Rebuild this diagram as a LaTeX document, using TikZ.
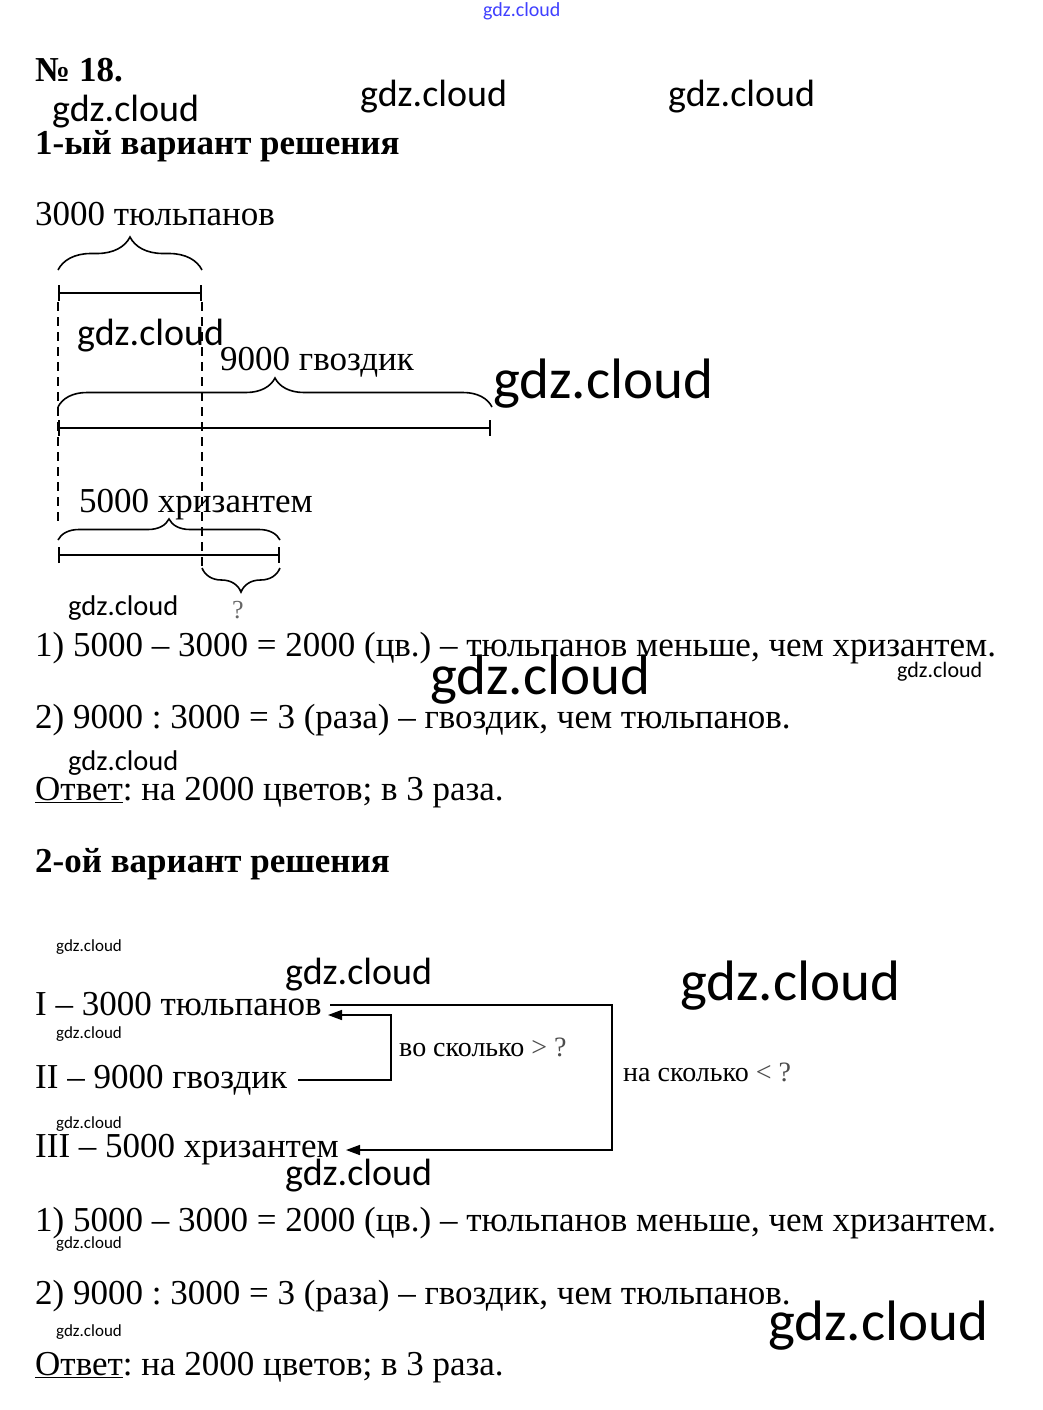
\documentclass[tikz,border=0pt]{standalone}
\usepackage{fontspec}
\setmainfont{Liberation Serif}
\newfontfamily\wmfont{Carlito}
\usetikzlibrary{decorations.pathreplacing,arrows.meta,calc}
\frenchspacing
\begin{document}
\begin{tikzpicture}[x=1pt,y=-1pt]
\tikzset{
 txt/.style={anchor=base west, inner sep=0pt, font=\fontsize{35}{40}\selectfont},
 hd/.style={anchor=base west, inner sep=0pt, font=\fontsize{35}{40}\selectfont\bfseries},
 small/.style={anchor=base west, inner sep=0pt, font=\fontsize{28}{32}\selectfont},
 wmL/.style={anchor=base west, inner sep=0pt, font=\wmfont\fontsize{57}{60}\selectfont},
 wmM/.style={anchor=base west, inner sep=0pt, font=\wmfont\fontsize{38}{40}\selectfont},
 wmS/.style={anchor=base west, inner sep=0pt, font=\wmfont\fontsize{28.5}{30}\selectfont},
 wmX/.style={anchor=base west, inner sep=0pt, font=\wmfont\fontsize{22}{24}\selectfont},
 wmT/.style={anchor=base west, inner sep=0pt, font=\wmfont\fontsize{17}{18}\selectfont},
 seg/.style={line width=1.6pt, {Bar[width=16pt]}-{Bar[width=16pt]}},
 dsh/.style={line width=1.4pt, dash pattern=on 9pt off 6pt},
 br/.style={line width=1.6pt, decorate, decoration={brace, amplitude=#1}},
 brm/.style={line width=1.6pt, decorate, decoration={brace, mirror, amplitude=#1}},
 arr/.style={line width=1.6pt, -{Triangle[length=14pt,width=10pt]}},
}
\useasboundingbox (0,0) rectangle (1043,1410);
\fill[white] (0,0) rectangle (1043,1410);

% watermarks
\node[anchor=base west, inner sep=0pt, font=\wmfont\fontsize{20}{22}\selectfont, text=blue!75!white] (w0) at (483,17) {gdz.cloud};
\node[wmM] (w1) at (52,122) {gdz.cloud};
\node[wmM] (w2) at (360,107) {gdz.cloud};
\node[wmM] (w3) at (668,107) {gdz.cloud};
\node[wmM] (w4) at (77,345) {gdz.cloud};
\node[wmL] (w5) at (493,398) {gdz.cloud};
\node[wmS] (w6) at (68,615) {gdz.cloud};
\node[wmX] (w7) at (897,677) {gdz.cloud};
\node[wmL] (w8) at (430,694) {gdz.cloud};
\node[wmS] (w9) at (68,770) {gdz.cloud};
\node[wmT] (w10) at (56,951) {gdz.cloud};
\node[wmM] (w11) at (285,984) {gdz.cloud};
\node[wmL] (w12) at (680,1000) {gdz.cloud};
\node[wmT] (w13) at (56,1038) {gdz.cloud};
\node[wmT] (w14) at (56,1128) {gdz.cloud};
\node[wmM] (w15) at (285,1185) {gdz.cloud};
\node[wmT] (w16) at (56,1248) {gdz.cloud};
\node[wmL] (w17) at (768,1340) {gdz.cloud};
\node[wmT] (w18) at (56,1336) {gdz.cloud};

% headings
\node[hd] (h0) at (35,82) {№ 18.};
\node[hd] (h1) at (35,154) {1-ый вариант решения};

% first diagram
\node[txt] (lt) at (35,225) {3000 тюльпанов};
\coordinate (b1a) at (58,270); \coordinate (b1b) at (202,270);
\draw[br=33pt] (b1a) -- (b1b);
\coordinate (s1a) at (58,293); \coordinate (s1b) at (202,293);
\draw[seg] (s1a) -- (s1b);
\coordinate (d1a) at (58,302); \coordinate (d1b) at (58,525);
\draw[dsh] (d1a) -- (d1b);
\coordinate (d2a) at (202,302); \coordinate (d2b) at (202,568);
\draw[dsh] (d2a) -- (d2b);

\node[txt] (lg) at (220,370) {9000 гвоздик};
\coordinate (b2a) at (58,407); \coordinate (b2b) at (492,407);
\draw[br=29pt] (b2a) -- (b2b);
\coordinate (s2a) at (58,428); \coordinate (s2b) at (491,428);
\draw[seg] (s2a) -- (s2b);

\node[txt] (lh) at (79,512) {5000 хризантем};
\coordinate (b3a) at (58,540); \coordinate (b3b) at (280,540);
\draw[br=21pt] (b3a) -- (b3b);
\coordinate (s3a) at (58,555); \coordinate (s3b) at (280,555);
\draw[seg] (s3a) -- (s3b);
\coordinate (b4a) at (202,568); \coordinate (b4b) at (280,568);
\draw[brm=24pt] (b4a) -- (b4b);
\node[anchor=base west, inner sep=0pt, font=\fontsize{26}{28}\selectfont, text=black!60] (q) at (232,618) {?};

% solution 1
\node[txt] (r1) at (35,656) {1) 5000 – 3000 = 2000 (цв.) – тюльпанов меньше, чем хризантем.};
\node[txt] (r2) at (35,728) {2) 9000 : 3000 = 3 (раза) – гвоздик, чем тюльпанов.};
\node[txt] (r3) at (35,800) {\underline{Ответ}: на 2000 цветов; в 3 раза.};

% second variant
\node[hd] (h2) at (35,872) {2-ой вариант решения};
\node[txt] (n1) at (35,1015) {I – 3000 тюльпанов};
\node[txt] (n2) at (35,1088) {II – 9000 гвоздик};
\node[txt] (n3) at (35,1157) {III – 5000 хризантем};
\node[small] (k1) at (399,1056) {во сколько \textcolor{black!70}{> ?}};
\node[small] (k2) at (623,1081) {на сколько \textcolor{black!70}{< ?}};

\coordinate (p1) at (330,1005); \coordinate (p2) at (612,1005);
\coordinate (p3) at (612,1150); \coordinate (p4) at (346,1150);
\draw[arr] (p1) -- (p2) -- (p3) -- (p4);
\coordinate (q1) at (298,1080); \coordinate (q2) at (391,1080);
\coordinate (q3) at (391,1015); \coordinate (q4) at (328,1015);
\draw[arr] (q1) -- (q2) -- (q3) -- (q4);

% solution 2
\node[txt] (r4) at (35,1231) {1) 5000 – 3000 = 2000 (цв.) – тюльпанов меньше, чем хризантем.};
\node[txt] (r5) at (35,1304) {2) 9000 : 3000 = 3 (раза) – гвоздик, чем тюльпанов.};
\node[txt] (r6) at (35,1375) {\underline{Ответ}: на 2000 цветов; в 3 раза.};
\end{tikzpicture}
\end{document}
